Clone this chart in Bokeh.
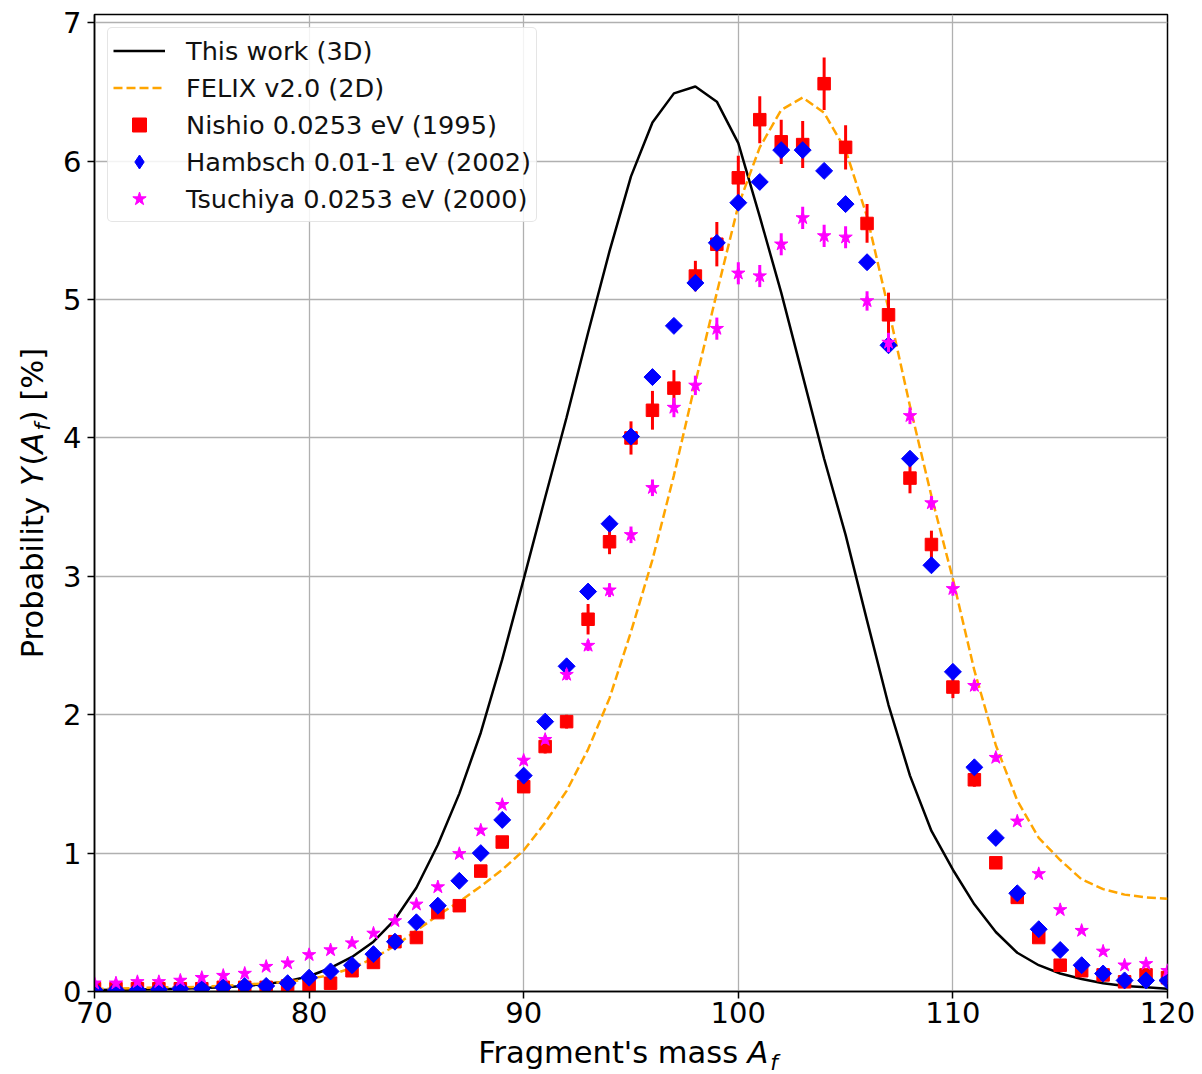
import numpy as np
from bokeh.plotting import figure
from bokeh.layouts import row, column
from bokeh.models import Range1d, Label, Legend, LegendItem, FixedTicker, ColumnDataSource
from bokeh.embed import file_html
from bokeh.resources import INLINE

# ---------------- data ----------------
A = list(range(70, 121))

this_work = [0.01, 0.012, 0.014, 0.017, 0.02, 0.025, 0.03, 0.04, 0.055, 0.075,
             0.11, 0.17, 0.25, 0.36, 0.52, 0.75, 1.06, 1.43, 1.87, 2.40,
             2.98, 3.57, 4.15, 4.76, 5.35, 5.89, 6.28, 6.49, 6.54, 6.43,
             6.13, 5.60, 5.05, 4.45, 3.85, 3.30, 2.68, 2.07, 1.56, 1.16,
             0.88, 0.63, 0.43, 0.28, 0.19, 0.13, 0.09, 0.06, 0.04, 0.03, 0.02]

felix = [0.02, 0.02, 0.025, 0.03, 0.03, 0.035, 0.04, 0.05, 0.06, 0.07,
         0.09, 0.12, 0.17, 0.24, 0.33, 0.44, 0.55, 0.65, 0.76, 0.88,
         1.02, 1.22, 1.45, 1.75, 2.12, 2.60, 3.12, 3.73, 4.40, 5.05,
         5.68, 6.10, 6.37, 6.46, 6.35, 6.08, 5.60, 4.93, 4.23, 3.58,
         2.98, 2.32, 1.78, 1.38, 1.11, 0.95, 0.81, 0.74, 0.70, 0.68, 0.67]

nishio = [0.02, 0.02, 0.02, 0.02, 0.02, 0.02, 0.03, 0.03, 0.03, 0.04,
          0.04, 0.06, 0.15, 0.21, 0.36, 0.39, 0.57, 0.62, 0.87, 1.08,
          1.48, 1.77, 1.95, 2.69, 3.25, 4.00, 4.20, 4.36, 5.17, 5.40,
          5.88, 6.30, 6.14, 6.12, 6.56, 6.10, 5.55, 4.89, 3.71, 3.23,
          2.20, 1.53, 0.93, 0.68, 0.39, 0.19, 0.15, 0.12, 0.07, 0.12, 0.10]
nishio_err = [0.005, 0.005, 0.005, 0.005, 0.005, 0.005, 0.005, 0.005, 0.005, 0.005,
              0.005, 0.01, 0.01, 0.01, 0.02, 0.02, 0.02, 0.02, 0.03, 0.03,
              0.04, 0.05, 0.05, 0.11, 0.09, 0.12, 0.14, 0.13, 0.11, 0.16,
              0.16, 0.17, 0.16, 0.17, 0.19, 0.16, 0.14, 0.16, 0.11, 0.10,
              0.08, 0.05, 0.04, 0.03, 0.02, 0.01, 0.01, 0.01, 0.01, 0.01, 0.01]

hambsch = [0.01, 0.01, 0.01, 0.015, 0.02, 0.02, 0.03, 0.04, 0.04, 0.06,
           0.10, 0.145, 0.19, 0.27, 0.36, 0.50, 0.62, 0.80, 1.00, 1.24,
           1.56, 1.95, 2.35, 2.89, 3.38, 4.01, 4.44, 4.81, 5.12, 5.41,
           5.70, 5.85, 6.08, 6.08, 5.93, 5.69, 5.27, 4.67, 3.85, 3.08,
           2.31, 1.62, 1.11, 0.71, 0.45, 0.30, 0.19, 0.13, 0.08, 0.08, 0.08]
hambsch_err = [0.002, 0.002, 0.002, 0.002, 0.002, 0.002, 0.003, 0.003, 0.003, 0.004,
               0.005, 0.006, 0.008, 0.01, 0.01, 0.01, 0.01, 0.02, 0.02, 0.02,
               0.02, 0.03, 0.03, 0.04, 0.04, 0.05, 0.05, 0.05, 0.05, 0.05,
               0.05, 0.05, 0.05, 0.05, 0.05, 0.05, 0.05, 0.05, 0.04, 0.04,
               0.03, 0.02, 0.02, 0.01, 0.01, 0.01, 0.005, 0.004, 0.003, 0.003, 0.003]

tsuchiya = [0.06, 0.06, 0.07, 0.07, 0.08, 0.10, 0.115, 0.13, 0.18, 0.205,
            0.265, 0.30, 0.35, 0.42, 0.51, 0.63, 0.755, 0.995, 1.165, 1.35,
            1.67, 1.82, 2.29, 2.50, 2.90, 3.30, 3.64, 4.22, 4.38, 4.79,
            5.19, 5.17, 5.40, 5.59, 5.46, 5.45, 4.99, 4.69, 4.16, 3.53,
            2.91, 2.21, 1.69, 1.23, 0.85, 0.59, 0.44, 0.29, 0.19, 0.20, 0.15]
tsuchiya_err = [0.005, 0.005, 0.005, 0.005, 0.005, 0.005, 0.005, 0.005, 0.005, 0.005,
                0.01, 0.01, 0.01, 0.01, 0.01, 0.01, 0.01, 0.02, 0.02, 0.02,
                0.03, 0.03, 0.04, 0.04, 0.05, 0.06, 0.06, 0.07, 0.07, 0.08,
                0.08, 0.08, 0.08, 0.08, 0.08, 0.08, 0.07, 0.07, 0.06, 0.05,
                0.05, 0.04, 0.03, 0.02, 0.02, 0.01, 0.01, 0.01, 0.005, 0.005, 0.005]

x_ticks = [70, 80, 90, 100, 110, 120]
y_ticks = [0, 1, 2, 3, 4, 5, 6, 7]

# ---------------- layout ----------------
W, H = 1202, 1074
FRAME_L, FRAME_R, FRAME_T, FRAME_B = 92, 1167, 14, 991
YLW = 60                       # strip holding the y-axis title
MH = 1035                      # main figure height
XLH = H - MH                   # strip holding the x-axis title
MW = W - YLW
L, R, T, B = FRAME_L - YLW, W - FRAME_R, FRAME_T, MH - FRAME_B
X0, X1 = 70, 120
Y0, Y1 = 0, 7.06
SX = (FRAME_R - FRAME_L) / (X1 - X0)
SY = (FRAME_B - FRAME_T) / (Y1 - Y0)
FONT = "DejaVu Sans"

p = figure(width=MW, height=MH, x_range=Range1d(X0, X1), y_range=Range1d(Y0, Y1),
           output_backend="svg", toolbar_location=None,
           min_border_left=L, min_border_right=R, min_border_top=T, min_border_bottom=B)
p.background_fill_color = "white"
p.border_fill_color = "white"
p.outline_line_color = "black"
p.outline_line_width = 1.5

p.xaxis.ticker = FixedTicker(ticks=x_ticks)
p.yaxis.ticker = FixedTicker(ticks=y_ticks)
for ax in (p.xaxis, p.yaxis):
    ax.axis_line_color = "black"
    ax.axis_line_width = 1.5
    ax.major_tick_line_color = "black"
    ax.major_tick_line_width = 1.5
    ax.major_tick_out = 7
    ax.major_tick_in = 0
    ax.minor_tick_line_color = None
    ax.major_label_text_font = FONT
    ax.major_label_text_font_size = "29px"
    ax.major_label_text_color = "black"
p.xaxis.major_label_standoff = 3
p.yaxis.major_label_standoff = 6

p.grid.grid_line_color = "#b0b0b0"
p.grid.grid_line_width = 1.3

# ---------------- curves ----------------
r_this = p.line(A, this_work, line_color="black", line_width=2.5)
r_felix = p.line(A, felix, line_color="orange", line_width=2.5, line_dash="9 4")

def series(vals, errs, color, marker, size, angle=0.0):
    src = ColumnDataSource(dict(x=A, y=vals,
                                lo=[v - e for v, e in zip(vals, errs)],
                                hi=[v + e for v, e in zip(vals, errs)]))
    p.segment(x0="x", y0="lo", x1="x", y1="hi", source=src, line_color=color, line_width=3)
    p.scatter(x="x", y="y", source=src, marker=marker, size=size, angle=angle,
              fill_color=color, line_color=color)
    return src

src_n = series(nishio, nishio_err, "red", "square", 12.5)
src_h = series(hambsch, hambsch_err, "blue", "square", 12, angle=np.pi / 4)
src_t = series(tsuchiya, tsuchiya_err, "magenta", "star", 14)

# legend proxies (hidden renderers sharing the data, drawn only in the legend)
lg_n = p.scatter(x="x", y="y", source=src_n, marker="square", fill_color="red", line_color="red", visible=False)
lg_h = p.scatter(x="x", y="y", source=src_h, marker="diamond", fill_color="blue", line_color="blue", visible=False)
lg_t = p.scatter(x="x", y="y", source=src_t, marker="star", fill_color="magenta", line_color="magenta", visible=False)

legend = Legend(items=[
    LegendItem(label="This work (3D)", renderers=[r_this]),
    LegendItem(label="FELIX v2.0 (2D)", renderers=[r_felix]),
    LegendItem(label="Nishio 0.0253 eV (1995)", renderers=[lg_n]),
    LegendItem(label="Hambsch 0.01-1 eV (2002)", renderers=[lg_h]),
    LegendItem(label="Tsuchiya 0.0253 eV (2000)", renderers=[lg_t]),
], location="top_left")
legend.margin = 13
legend.padding = 5
legend.spacing = 2
legend.glyph_width = 52
legend.glyph_height = 35
legend.label_height = 30
legend.label_standoff = 21
legend.label_text_font = FONT
legend.label_text_font_size = "25.6px"
legend.label_text_color = "#111111"
legend.label_text_baseline = "middle"
legend.border_line_color = "#cccccc"
legend.border_line_width = 1.5
legend.background_fill_color = "white"
legend.background_fill_alpha = 0.85
try:
    legend.border_radius = 5
except Exception:
    pass
p.add_layout(legend)

# ---------------- axis titles (with italic math parts) ----------------
DV = {' ': 651, "'": 563, '(': 799, ')': 799, '%': 1946, '[': 799, ']': 799,
      'A': 1401, 'F': 1178, 'P': 1235, 'Y': 1251,
      'a': 1255, 'b': 1300, 'e': 1260, 'f': 721, 'g': 1300, 'i': 569, 'l': 569,
      'm': 1995, 'n': 1298, 'o': 1253, 'r': 842, 's': 1067, 't': 803, 'y': 1212}

def tw(s, fs):
    return sum(DV[c] for c in s) / 2048.0 * fs

MID = 0.346      # (ascent - descent)/2 of DejaVu Sans, in em
LFS = 30.5
SUB = 21.5
SUB_DROP = 6

def strip(w, h, xr, yr, bl, br, bt, bb):
    f = figure(width=w, height=h, x_range=xr, y_range=yr,
               output_backend="svg", toolbar_location=None,
               x_axis_type=None, y_axis_type=None,
               min_border_left=bl, min_border_right=br,
               min_border_top=bt, min_border_bottom=bb)
    f.outline_line_color = None
    f.background_fill_color = "white"
    f.border_fill_color = "white"
    return f

# x title strip: frame lined up with the main frame horizontally, x in data units
xl = strip(MW, XLH, Range1d(X0, X1), Range1d(0, XLH), L, R, 0, 0)

def xdata(cx):
    return X0 + (cx - FRAME_L) / SX

xpieces = [("Fragment's mass ", LFS, "normal", 0, -2),
           ("A", LFS, "italic", 0, 2),
           ("f", SUB, "italic", SUB_DROP, 0)]
xtot = sum(tw(t, fs) + g for t, fs, st, sh, g in xpieces)
xpos = (FRAME_L + FRAME_R) / 2 - xtot / 2 - 3
xbase = 1063
for t, fs, st, sh, g in xpieces:
    cy = xbase + sh - MID * fs
    xl.add_layout(Label(x=xdata(xpos), y=H - cy, text=t,
                        text_font=FONT, text_font_size=f"{fs}px", text_font_style=st,
                        text_align="left", text_baseline="middle", text_color="black"))
    xpos += tw(t, fs) + g

# y title strip: frame lined up with the main frame vertically, y in data units
yl = strip(YLW, H, Range1d(0, YLW), Range1d(Y0, Y1), 0, 0, FRAME_T, H - FRAME_B)

def ydata(cy):
    return Y0 + (FRAME_B - cy) / SY

ypieces = [("Probability ", LFS, "normal", 0, 0),
           ("Y", LFS, "italic", 0, 2),
           ("(", LFS, "normal", 0, 0),
           ("A", LFS, "italic", 0, 2),
           ("f", SUB, "italic", SUB_DROP, 1),
           (") [%]", LFS, "normal", 0, 0)]
ytot = sum(tw(t, fs) + g for t, fs, st, sh, g in ypieces)
ypos = (FRAME_T + FRAME_B) / 2 + ytot / 2
ybase = 43
for t, fs, st, sh, g in ypieces:
    cx = ybase + sh - MID * fs
    yl.add_layout(Label(x=cx, y=ydata(ypos), text=t, angle=np.pi / 2,
                        text_font=FONT, text_font_size=f"{fs}px", text_font_style=st,
                        text_align="left", text_baseline="middle", text_color="black"))
    ypos -= tw(t, fs) + g

layout = row(yl, column(p, xl))
open("out.html", "w").write(file_html(layout, INLINE))
